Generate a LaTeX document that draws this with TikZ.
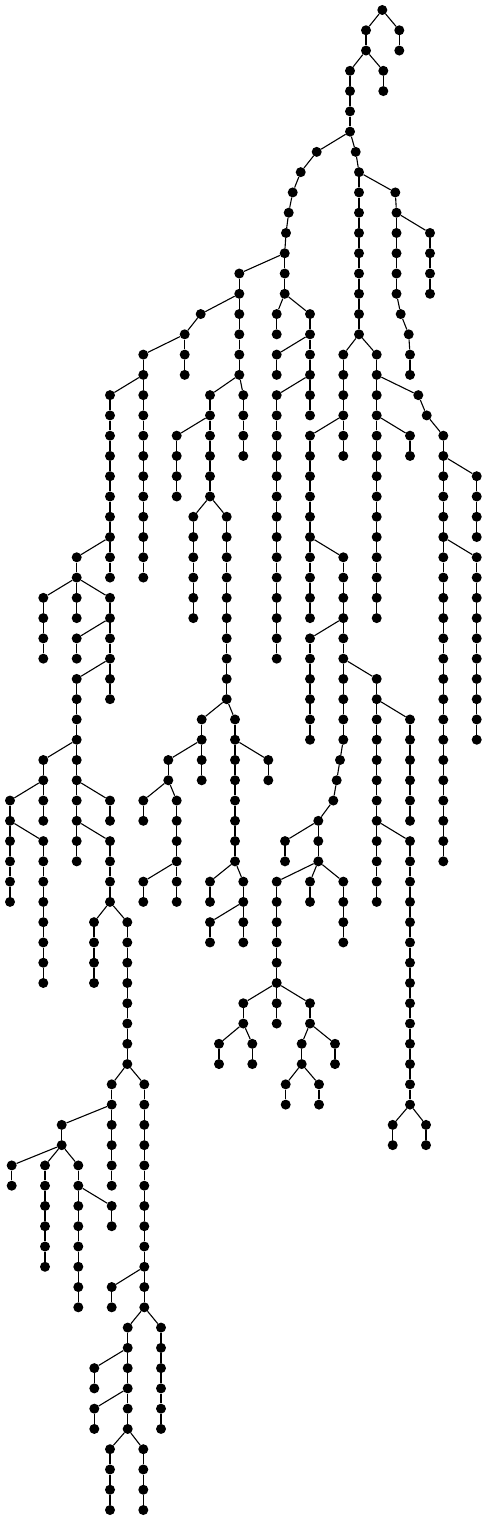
\documentclass[tikz,border=0pt]{standalone}
\usepackage{tikz}
\usetikzlibrary{positioning}
\tikzstyle{vertex} = [circle, fill=black, draw=none, inner sep=0pt, minimum size=10pt]
\tikzstyle{edge} = [line width=1.1pt, color=black]

\begin{document}
\begin{tikzpicture}[x=1pt, y=20.27pt]
\useasboundingbox (0,0.4933) rectangle (487,-74.4929);
\node[vertex] (r-0) at (382.3,0) {};
% chains: name / x / first level / last level / parent
\foreach \nm/\x/\a/\b/\p in {
  a/366/1/2/r-0, b/399.3/1/2/r-0, c/350/3/6/a-2, d/383.3/3/4/a-2,
  e/316.7/7/7/c-6, f/300.7/8/8/e-7, g/292.7/9/9/f-8, h/288.7/10/10/g-9,
  i/286/11/11/h-10, j/284.7/12/14/i-11,
  k/355.7/7/7/c-6, m/359/8/16/k-7, n/395.3/9/9/m-8, o/396.5/10/14/n-9,
  p/400.7/15/15/o-14, q/408.7/16/16/p-15, s/410/17/18/q-16, t/430/11/14/o-10,
  u/239.3/13/18/j-12, w/276.7/15/16/j-14, v/310/15/20/j-14,
  y/276.7/17/18/v-16, z/276.7/19/32/v-18,
  aa/200.7/15/15/u-14, ab/184.7/16/18/aa-15, ac/143.3/17/28/ab-16,
  ad/210/19/24/u-18, ae/243.3/19/22/u-18,
  af/110/19/28/ac-18, ag/76.7/27/30/af-26, ah/43.3/29/32/ag-28,
  ai/110/29/34/ag-28, aj/76.7/31/32/ai-30, ak/76.7/33/42/ai-32,
  al/43.3/37/40/ak-36, am/10/39/44/al-38, an/43.3/41/48/am-40,
  ao/110/39/40/ak-38, ap/110/41/44/ak-40, aq/94/45/48/ap-44,
  ar/127.3/45/52/ap-44, as/111.7/53/58/ar-52, at/144.3/53/64/ar-52,
  au/61.7/55/56/as-54, av/11.7/57/58/au-56, aw/45/57/62/au-56,
  ax/78.3/57/64/au-56, ay/111.7/59/60/ax-58, az/111.7/63/64/at-62,
  ba/127.7/65/70/at-64, bb/161/65/70/at-64, bc/94.3/67/68/ba-66,
  bd/94.3/69/70/ba-68, be/110/71/74/ba-70, bf/143.3/71/74/ba-70,
  bg/176.7/21/24/ad-20, bh/193.3/25/30/ad-24, bi/226.7/25/34/ad-24,
  bj/201.7/35/38/bi-34, bk/235/35/42/bi-34, bl/168.3/37/38/bj-36,
  bm/143.3/39/40/bl-38, bn/176.7/39/44/bl-38, bo/143.3/43/44/bn-42,
  bp/268.3/37/38/bk-36, bq/210/43/44/bk-42, br/243.3/43/46/bk-42,
  bs/210/45/46/br-44,
  bt/343.3/17/22/m-16, bu/376.7/17/30/m-16, bv/310/21/30/bt-20,
  bw/343.3/27/36/bv-26, bx/310/31/36/bw-30, by/340/37/37/bw-36,
  bz/336.7/38/38/by-37, ca/333.3/39/39/bz-38, cb/318.3/40/42/ca-39,
  cc/285/41/42/cb-40, cd/276.7/43/48/cb-42, ce/310/43/44/cb-42,
  cf/343.3/43/46/cb-42, cg/243.3/49/50/cd-48, ch/276.7/49/50/cd-48,
  ci/310/49/50/cd-48, cj/219/51/52/cg-50, ck/252.3/51/52/cg-50,
  cl/335/51/52/ci-50, cm/301.7/51/52/ci-50, cn/285.7/53/54/cm-52,
  co/319/53/54/cm-52,
  cp/418.3/19/19/bu-18, cq/426.7/20/20/cp-19, cr/443.3/21/42/cq-20,
  cs/410/21/22/bu-20, ct/476.7/23/26/cr-22, cu/476.7/27/36/cr-26,
  cv/376.7/33/44/bw-32, cw/410/35/40/cv-34, cx/410/41/54/cv-40,
  cy/392.7/55/56/cx-54, cz/426/55/56/cx-54}
{
  \node[vertex] (\nm-\a) at (\x,-\a) {};
  \draw[edge] (\p) -- (\nm-\a);
  \ifnum\a<\b
    \pgfmathtruncatemacro\s{\a+1}
    \foreach \l in {\s,...,\b} {
      \pgfmathtruncatemacro\q{\l-1}
      \node[vertex] (\nm-\l) at (\x,-\l) {};
      \draw[edge] (\nm-\q) -- (\nm-\l);
    }
  \fi
}
\end{tikzpicture}
\end{document}
